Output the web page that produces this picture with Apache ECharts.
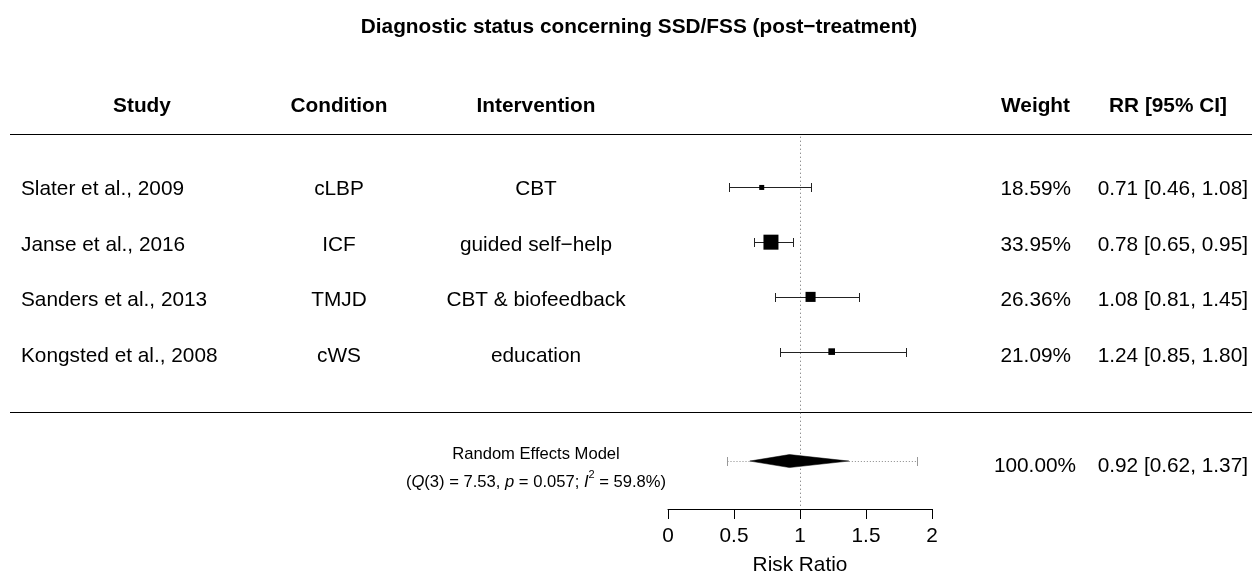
<!DOCTYPE html>
<html><head><meta charset="utf-8">
<script src="https://cdn.jsdelivr.net/npm/echarts@6/dist/echarts.min.js"></script>
<style>html,body{margin:0;padding:0;background:#fff}#c{width:1252px;height:581px}</style>
</head><body><div id="c"></div>
<script>
// ---------- data ----------
const chartTitle = "Diagnostic status concerning SSD/FSS (post\u2212treatment)";
const headers = ["Study", "Condition", "Intervention", "Weight", "RR [95% CI]"];
const studies = ["Slater et al., 2009", "Janse et al., 2016", "Sanders et al., 2013", "Kongsted et al., 2008"];
const conditions = ["cLBP", "ICF", "TMJD", "cWS"];
const interventions = ["CBT", "guided self\u2212help", "CBT & biofeedback", "education"];
const weights = [18.59, 33.95, 26.36, 21.09];
const rr = [0.71, 0.78, 1.08, 1.24];
const ciLower = [0.46, 0.65, 0.81, 0.85];
const ciUpper = [1.08, 0.95, 1.45, 1.80];
const summaryLabel = "Random Effects Model";
const summaryWeight = [100.00];
const summaryEst = [0.92];
const summaryLower = [0.62];
const summaryUpper = [1.37];
const predLower = [0.45];
const predUpper = [1.89];
const hetQ = [7.53], hetDf = [3], hetP = [0.057], hetI2 = [59.8];
const xTicks = [0, 0.5, 1, 1.5, 2];
const xLabel = "Risk Ratio";
const refValue = [1];

// ---------- layout ----------
const FONT = '"Liberation Sans", Arial, Helvetica, sans-serif';
const FS = 20.8, FS_SMALL = 16.6;
const K = studies.length;
const rowOf = i => K - i;          // study rows K..1
const SUMMARY_ROW = -1, HEADER_ROW = K + 1.5, TOP_RULE = K + 1, BOTTOM_RULE = 0;
const Y_MIN = -1.876, Y_MAX = K + 2;
const GRID_TOP = 78, GRID_BOTTOM = 65;
const COL = { study: 21, studyHead: 142, cond: 339, int: 536, weight: 1071, weightSum: 1076, rr: 1248, rrHead: 1168 };
const RULE_X0 = 10, RULE_X1 = 1252;

const wMin = Math.min(...weights), wMax = Math.max(...weights);
const fmt2 = v => v.toFixed(2);

function txt(x, y, text, opts) {
  return { type: 'text', style: Object.assign({
    x: x, y: y, text: text, fill: '#000', fontSize: FS, fontFamily: FONT,
    align: 'left', verticalAlign: 'middle'
  }, opts || {}) };
}

const tableData = studies.map((s, i) => [0, rowOf(i), i]);
const forestData = rr.map((v, i) => [v, ciLower[i], ciUpper[i], rowOf(i), weights[i]]);

const chart = echarts.init(document.getElementById('c'), null, { renderer: 'canvas' });
chart.setOption({
  animation: false,
  backgroundColor: '#fff',
  title: {
    text: chartTitle, left: 634, top: 12, textAlign: 'center',
    textStyle: { fontSize: FS, fontWeight: 'bold', color: '#000', fontFamily: FONT }
  },
  grid: [
    { left: 0, right: 0, top: GRID_TOP, bottom: GRID_BOTTOM },
    { left: 668, width: 264, top: GRID_TOP, bottom: GRID_BOTTOM }
  ],
  xAxis: [
    { gridIndex: 0, type: 'value', min: 0, max: 1252, show: false },
    { gridIndex: 1, type: 'value', min: 0, max: 2, interval: 0.5,
      axisLine: { show: true, onZero: false, lineStyle: { color: '#000', width: 1 } },
      axisTick: { show: true, length: 10, customValues: xTicks, lineStyle: { color: '#000', width: 1 } },
      axisLabel: { customValues: xTicks, fontSize: FS, color: '#000', fontFamily: FONT, margin: 17,
                   formatter: v => String(v) },
      splitLine: { show: false },
      name: xLabel, nameLocation: 'middle', nameGap: 46,
      nameTextStyle: { fontSize: FS, color: '#000', fontFamily: FONT } }
  ],
  yAxis: [
    { gridIndex: 0, type: 'value', min: Y_MIN, max: Y_MAX, show: false },
    { gridIndex: 1, type: 'value', min: Y_MIN, max: Y_MAX, show: false }
  ],
  series: [
    // horizontal rules
    { type: 'custom', xAxisIndex: 0, yAxisIndex: 0, silent: true,
      data: [[0, TOP_RULE], [0, BOTTOM_RULE]],
      renderItem: (p, api) => {
        const a = api.coord([RULE_X0, api.value(1)]), b = api.coord([RULE_X1, api.value(1)]);
        const y = Math.round(a[1]) + 0.5;
        return { type: 'line', shape: { x1: a[0], y1: y, x2: b[0], y2: y }, style: { stroke: '#000', lineWidth: 1.2 } };
      } },
    // headers
    { type: 'custom', xAxisIndex: 0, yAxisIndex: 0, silent: true,
      data: [[0, HEADER_ROW]],
      renderItem: (p, api) => {
        const y = api.coord([0, api.value(1)])[1];
        const X = v => api.coord([v, 0])[0];
        const b = { fontWeight: 'bold' };
        return { type: 'group', children: [
          txt(X(COL.studyHead), y, headers[0], Object.assign({ align: 'center' }, b)),
          txt(X(COL.cond), y, headers[1], Object.assign({ align: 'center' }, b)),
          txt(X(COL.int), y, headers[2], Object.assign({ align: 'center' }, b)),
          txt(X(COL.weight - 1), y, headers[3], Object.assign({ align: 'right' }, b)),
          txt(X(COL.rrHead), y, headers[4], Object.assign({ align: 'center' }, b))
        ] };
      } },
    // study rows text
    { type: 'custom', xAxisIndex: 0, yAxisIndex: 0, silent: true,
      data: tableData,
      renderItem: (p, api) => {
        const i = api.value(2);
        const y = api.coord([0, api.value(1)])[1];
        const X = v => api.coord([v, 0])[0];
        return { type: 'group', children: [
          txt(X(COL.study), y, studies[i]),
          txt(X(COL.cond), y, conditions[i], { align: 'center' }),
          txt(X(COL.int), y, interventions[i], { align: 'center' }),
          txt(X(COL.weight), y, fmt2(weights[i]) + '%', { align: 'right' }),
          txt(X(COL.rr), y, fmt2(rr[i]) + ' [' + fmt2(ciLower[i]) + ', ' + fmt2(ciUpper[i]) + ']', { align: 'right' })
        ] };
      } },
    // summary row text
    { type: 'custom', xAxisIndex: 0, yAxisIndex: 0, silent: true,
      data: [[0, SUMMARY_ROW]],
      renderItem: (p, api) => {
        const y = api.coord([0, api.value(1)])[1];
        const X = v => api.coord([v, 0])[0];
        const base = { fontSize: FS_SMALL, fontFamily: FONT, color: '#000', lineHeight: 22, verticalAlign: 'bottom' };
        const rich = {
          n: base,
          i: Object.assign({}, base, { fontStyle: 'italic' }),
          s: { fontSize: 11, fontFamily: FONT, color: '#000', lineHeight: 14, verticalAlign: 'top' }
        };
        const stats = '{n|(}{i|Q}{n|(' + hetDf[0] + ') = ' + fmt2(hetQ[0]) + ', }{i|p}{n| = ' + hetP[0].toFixed(3) +
          '; }{i|I}{s|2}{n| = ' + hetI2[0].toFixed(1) + '%)}';
        return { type: 'group', children: [
          txt(X(COL.int), y - 13, summaryLabel, { align: 'center', fontSize: FS_SMALL }),
          { type: 'text', style: { x: X(COL.int), y: y + 13, text: stats, rich: rich, align: 'center', verticalAlign: 'middle',
                                   fontSize: FS_SMALL, fontFamily: FONT, fill: '#000' } },
          txt(X(COL.weightSum), y - 1, summaryWeight[0].toFixed(2) + '%', { align: 'right' }),
          txt(X(COL.rr), y - 1, fmt2(summaryEst[0]) + ' [' + fmt2(summaryLower[0]) + ', ' + fmt2(summaryUpper[0]) + ']', { align: 'right' })
        ] };
      } },
    // reference line at RR = 1
    { type: 'custom', xAxisIndex: 1, yAxisIndex: 1, silent: true, clip: false,
      data: [[refValue[0]]],
      renderItem: (p, api) => {
        const a = api.coord([api.value(0), TOP_RULE]), b = api.coord([api.value(0), Y_MIN]);
        const x = Math.round(a[0]) + 0.5;
        return { type: 'line', shape: { x1: x, y1: a[1] + 4, x2: x, y2: b[1] - 3 },
                 style: { stroke: '#666', lineWidth: 1, lineDash: [1, 3] } };
      } },
    // study CIs and squares
    { type: 'custom', xAxisIndex: 1, yAxisIndex: 1, silent: true, clip: false,
      data: forestData,
      renderItem: (p, api) => {
        const pE = api.coord([api.value(0), api.value(3)]);
        const pL = api.coord([api.value(1), api.value(3)]);
        const pH = api.coord([api.value(2), api.value(3)]);
        const y = Math.round(pE[1]) + 0.5;
        const xl = Math.round(pL[0]) + 0.5, xh = Math.round(pH[0]) + 0.5;
        const s = 5 + (api.value(4) - wMin) / (wMax - wMin) * 10;
        const ls = { stroke: '#222', lineWidth: 1 };
        return { type: 'group', children: [
          { type: 'line', shape: { x1: xl, y1: y, x2: xh, y2: y }, style: ls },
          { type: 'line', shape: { x1: xl, y1: y - 4.5, x2: xl, y2: y + 4.5 }, style: ls },
          { type: 'line', shape: { x1: xh, y1: y - 4.5, x2: xh, y2: y + 4.5 }, style: ls },
          { type: 'rect', shape: { x: pE[0] - s / 2, y: pE[1] - s / 2, width: s, height: s }, style: { fill: '#000' } }
        ] };
      } },
    // summary diamond and prediction interval
    { type: 'custom', xAxisIndex: 1, yAxisIndex: 1, silent: true, clip: false,
      data: [[summaryEst[0], summaryLower[0], summaryUpper[0], predLower[0], predUpper[0], SUMMARY_ROW]],
      renderItem: (p, api) => {
        const row = api.value(5);
        const pE = api.coord([api.value(0), row]);
        const pL = api.coord([api.value(1), row]);
        const pH = api.coord([api.value(2), row]);
        const qL = api.coord([api.value(3), row]);
        const qH = api.coord([api.value(4), row]);
        const y = Math.round(pE[1]) + 0.5;
        const ql = Math.round(qL[0]) + 0.5, qh = Math.round(qH[0]) + 0.5;
        const ds = { stroke: '#888', lineWidth: 1, lineDash: [1, 2] };
        const es = { stroke: '#999', lineWidth: 1 };
        return { type: 'group', children: [
          { type: 'line', shape: { x1: ql, y1: y, x2: pL[0], y2: y }, style: ds },
          { type: 'line', shape: { x1: pH[0], y1: y, x2: qh, y2: y }, style: ds },
          { type: 'line', shape: { x1: ql, y1: y - 4.5, x2: ql, y2: y + 4.5 }, style: es },
          { type: 'line', shape: { x1: qh, y1: y - 4.5, x2: qh, y2: y + 4.5 }, style: es },
          { type: 'polygon', shape: { points: [[pL[0], pE[1]], [pE[0], pE[1] - 6.5], [pH[0], pE[1]], [pE[0], pE[1] + 6.5]] },
            style: { fill: '#000', stroke: '#000', lineWidth: 0.5 } }
        ] };
      } }
  ]
});
</script>
</body></html>
